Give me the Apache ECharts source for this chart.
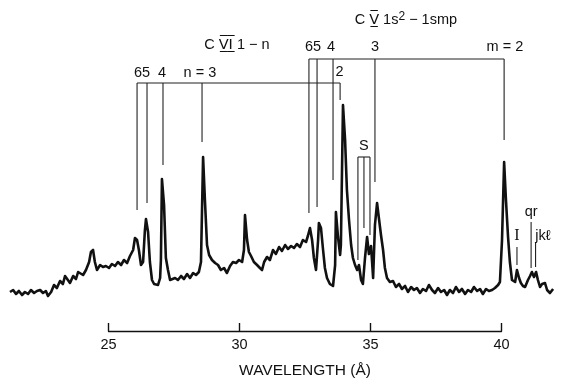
<!DOCTYPE html>
<html>
<head>
<meta charset="utf-8">
<script src="https://cdn.jsdelivr.net/npm/echarts@6/dist/echarts.min.js"></script>
<style>
html,body{margin:0;padding:0;background:#fff;}
#chart{width:563px;height:385px;}
</style>
</head>
<body>
<div id="chart"></div>
<script>
// scanned spectrum, wavelength in angstrom, intensity in arbitrary units
var wavelength=[21.24,21.36,21.47,21.58,21.70,21.81,21.93,22.04,22.16,22.27,22.39,22.50,22.61,22.69,22.81,22.92,23.03,23.15,23.26,23.34,
23.45,23.53,23.65,23.76,23.84,23.91,24.03,24.14,24.26,24.33,24.41,24.48,24.56,24.68,24.79,24.90,25.02,25.13,25.25,25.36,
25.48,25.59,25.71,25.82,25.94,26.01,26.09,26.16,26.24,26.32,26.39,26.43,26.51,26.58,26.66,26.74,26.81,26.89,26.97,27.00,
27.04,27.12,27.19,27.27,27.35,27.42,27.54,27.65,27.77,27.88,28.00,28.11,28.23,28.34,28.45,28.53,28.61,28.68,28.76,28.84,
28.95,29.07,29.18,29.29,29.41,29.52,29.64,29.75,29.87,29.98,30.10,30.17,30.21,30.29,30.36,30.44,30.55,30.67,30.78,30.86,
30.94,31.05,31.16,31.28,31.39,31.51,31.62,31.74,31.85,31.97,32.08,32.19,32.31,32.42,32.54,32.61,32.69,32.77,32.84,32.92,
33.00,33.03,33.11,33.19,33.26,33.34,33.45,33.57,33.65,33.68,33.76,33.84,33.87,33.95,34.03,34.10,34.18,34.26,34.33,34.41,
34.49,34.56,34.64,34.71,34.79,34.87,34.94,35.02,35.10,35.17,35.25,35.32,35.40,35.48,35.55,35.63,35.74,35.86,35.97,36.09,
36.20,36.32,36.43,36.55,36.66,36.77,36.89,37.00,37.12,37.23,37.35,37.46,37.58,37.69,37.81,37.92,38.03,38.15,38.26,38.38,
38.49,38.61,38.72,38.84,38.95,39.07,39.18,39.29,39.41,39.52,39.64,39.75,39.87,39.94,40.02,40.10,40.17,40.25,40.32,40.40,
40.52,40.59,40.67,40.74,40.82,40.90,41.01,41.09,41.16,41.24,41.32,41.39,41.47,41.55,41.66,41.74,41.85,41.97];
var intensity=[8,10,6,9,5,8,6,10,7,9,10,7,9,4,8,15,12,19,16,24,
20,17,24,21,28,30,25,30,38,48,50,38,30,35,33,34,32,36,34,38,
35,40,37,44,50,62,60,50,35,38,70,81,68,38,20,16,17,15,22,40,
121,95,42,30,20,18,22,20,24,21,26,22,27,25,28,38,143,100,55,45,
40,37,35,30,32,27,34,38,37,40,38,50,85,60,48,44,38,35,32,30,
38,43,40,50,46,53,49,55,51,54,52,56,53,60,58,64,72,60,42,30,
60,77,72,50,32,22,16,14,35,88,63,45,55,195,160,110,80,55,42,35,
30,35,20,16,42,63,46,54,22,75,97,82,65,50,32,22,18,19,13,16,
11,14,8,13,10,12,7,11,9,15,10,7,12,8,10,5,10,7,13,8,
11,6,10,8,13,9,11,6,11,9,10,12,15,18,60,138,100,63,38,20,
18,30,22,17,14,13,20,24,28,23,28,20,13,16,17,10,7,11];

// C VI 1-n series (n = 6,5,4,3,2)
var cviLambda=[26.09,26.47,27.08,28.57,33.84];
var cviTip=[90,97,135,158,200];
var cviBar=217;
// C V 1s2-1smp series (m = 6,5,4,3,2)
var cvLambda=[32.65,32.96,33.57,35.17,40.10];
var cvTip=[87,93,120,118,160];
var cvBar=241;
// S bracket
var sLambda=[34.52,34.75,34.98];
var sTip=[40,72,65];
var sBar=143;
// I, qr, jkl satellites
var minorLambda=[40.59,41.13,41.30];
var minorTop=[53,78,57];
var minorTip=[35,32,33];

var labelText=["65","4","n = 3","2","65","4","3","m = 2","S","I","qr","jkℓ",
	"C {n|V̲̅I̲̅} 1 − n","C {n|V̲̅} 1s{sup|2} − 1smp"];
var labelLambda=[26.28,27.04,28.49,33.82,32.81,33.49,35.17,40.13,34.75,40.59,41.13,41.58,29.90,36.35];
var labelLevel=[227,227,227,228,253,253,253,253,154,64,88,64,255,280];

var axisTicks=[25,30,35,40];

var chart=echarts.init(document.getElementById("chart"));

function segments(){
	var s=[];
	s.push([cviLambda[0],cviBar,cviLambda[cviLambda.length-1],cviBar]);
	cviLambda.forEach((l,i)=>s.push([l,cviBar,l,cviTip[i]]));
	s.push([cvLambda[0],cvBar,cvLambda[cvLambda.length-1],cvBar]);
	cvLambda.forEach((l,i)=>s.push([l,cvBar,l,cvTip[i]]));
	s.push([sLambda[0],sBar,sLambda[sLambda.length-1],sBar]);
	sLambda.forEach((l,i)=>s.push([l,sBar,l,sTip[i]]));
	minorLambda.forEach((l,i)=>s.push([l,minorTop[i],l,minorTip[i]]));
	return s;
}

var font='"Liberation Sans", Arial, sans-serif';

var option={
	animation:false,
	backgroundColor:'#fff',
	grid:[
		{left:3.7,width:550.2,top:0,height:300},
		{left:108.5,width:393,top:300,height:31}
	],
	xAxis:[
		{type:'value',gridIndex:0,min:21,max:42,show:false},
		{
			type:'value',gridIndex:1,min:25,max:40,interval:5,
			axisLine:{show:true,lineStyle:{color:'#111',width:1.4}},
			axisTick:{show:true,inside:true,length:8,customValues:axisTicks,lineStyle:{color:'#111',width:1.4}},
			axisLabel:{margin:6,color:'#111',fontSize:14.5,fontFamily:font,customValues:axisTicks},
			splitLine:{show:false},
			name:'WAVELENGTH (Å)',
			nameLocation:'middle',
			nameGap:32,
			nameTextStyle:{color:'#111',fontSize:15.5,fontFamily:font}
		}
	],
	yAxis:[
		{type:'value',gridIndex:0,min:0,max:300,show:false},
		{type:'value',gridIndex:1,min:0,max:1,show:false}
	],
	series:[
		{
			type:'line',
			xAxisIndex:0,yAxisIndex:0,
			data:wavelength.map((w,i)=>[w,intensity[i]]),
			symbol:'none',
			lineStyle:{color:'#111',width:2.6,join:'round'}
		},
		{
			type:'custom',
			xAxisIndex:0,yAxisIndex:0,
			data:segments(),
			encode:{x:[0,2],y:[1,3]},
			clip:false,
			renderItem:function(params,api){
				var a=api.coord([api.value(0),api.value(1)]);
				var b=api.coord([api.value(2),api.value(3)]);
				return {type:'line',shape:{x1:a[0],y1:a[1],x2:b[0],y2:b[1]},style:{stroke:'#222',lineWidth:1.1}};
			}
		},
		{
			type:'custom',
			xAxisIndex:0,yAxisIndex:0,
			data:labelLambda.map((l,i)=>[l,labelLevel[i]]),
			clip:false,
			renderItem:function(params,api){
				var p=api.coord([api.value(0),api.value(1)]);
				var t=labelText[params.dataIndex];
				var f=(t==='I')?'16px "Liberation Serif", serif':'14.5px '+font;
				return {type:'text',x:p[0],y:p[1],style:{
					text:t,fill:'#111',font:f,align:'center',verticalAlign:'middle',
					rich:{
						n:{fontSize:14.5,fontFamily:'"DejaVu Sans"',fill:'#111'},
						sup:{fontSize:12,fontFamily:font,fill:'#111',verticalAlign:'top',lineHeight:18,padding:[0,0,6,0]}
					}
				}};
			}
		}
	]
};
chart.setOption(option);
</script>
</body>
</html>
